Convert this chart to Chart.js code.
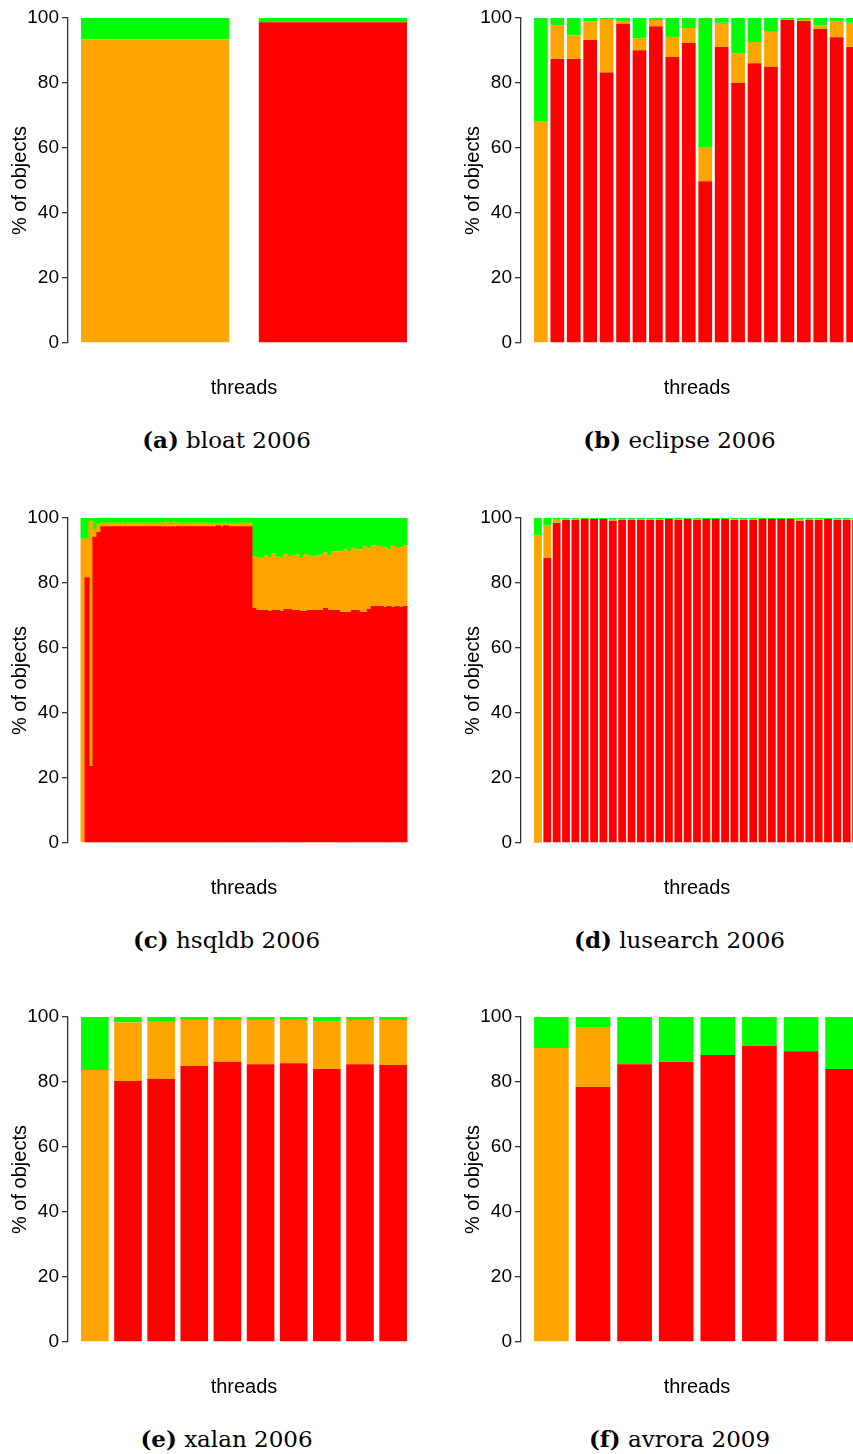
<!DOCTYPE html>
<html>
<head>
<meta charset="utf-8">
<script src="https://cdn.jsdelivr.net/npm/chart.js@4.4.1/dist/chart.umd.min.js"></script>
<style>
  html, body { margin: 0; padding: 0; background: #fff; overflow: hidden; width: 853px; height: 1454px; }
  canvas { position: absolute; }
  .cap { position: absolute; width: 453px; text-align: center; font: 23px "DejaVu Serif", serif; color: #000; line-height: 24px; white-space: nowrap; }
</style>
</head>
<body>
<canvas id="bloat" width="440" height="400" style="left:0;top:0"></canvas>
<canvas id="eclipse" width="440" height="400" style="left:453px;top:0"></canvas>
<canvas id="hsqldb" width="440" height="400" style="left:0;top:500px"></canvas>
<canvas id="lusearch" width="440" height="400" style="left:453px;top:500px"></canvas>
<canvas id="xalan" width="440" height="400" style="left:0;top:999px"></canvas>
<canvas id="avrora" width="440" height="400" style="left:453px;top:999px"></canvas>

<div class="cap" style="left:0;top:428px"><b>(a)</b> bloat 2006</div>
<div class="cap" style="left:453px;top:428px"><b>(b)</b> eclipse 2006</div>
<div class="cap" style="left:0;top:928px"><b>(c)</b> hsqldb 2006</div>
<div class="cap" style="left:453px;top:928px"><b>(d)</b> lusearch 2006</div>
<div class="cap" style="left:0;top:1427px"><b>(e)</b> xalan 2006</div>
<div class="cap" style="left:453px;top:1427px"><b>(f)</b> avrora 2009</div>

<script>
const RED = '#ff0000', ORANGE = '#ffa500', GREEN = '#00ff00';
const FONT = '"Liberation Sans", Arial, Helvetica, sans-serif';

// bloat 2006
const bloatRed    = [0, 98.7];
const bloatOrange = [93.4, 0];
const bloatGreen  = [6.6, 1.3];

// eclipse 2006
const eclipseRed    = [0, 87.4, 87.4, 93.2, 83.2, 98.2, 90.1, 97.5, 88.0, 92.3,
                       49.8, 91.1, 80.0, 86.1, 84.9, 99.4, 99.1, 96.6, 94.1, 91.1];
const eclipseOrange = [68.1, 10.4, 7.2, 5.7, 16.5, 0.9, 3.7, 1.9, 6.1, 4.6,
                       10.3, 7.4, 9.2, 6.5, 11.1, 0.3, 0.3, 1.2, 5.0, 7.4];
const eclipseGreen  = [31.9, 2.2, 5.4, 1.1, 0.3, 0.9, 6.2, 0.6, 5.9, 3.1,
                       39.9, 1.5, 10.8, 7.4, 4.0, 0.3, 0.6, 2.2, 0.9, 1.5];

// hsqldb 2006
const hsqldbRed = [
  0, 81.8, 23.7, 94.2, 95.7, 97.5, 97.5, 97.5, 97.5, 97.5,
  97.5, 97.5, 97.5, 97.5, 97.5, 97.5, 97.5, 97.5, 97.5, 97.5,
  97.5, 97.5, 97.5, 97.5, 97.5, 97.5, 97.5, 97.5, 97.5, 97.5,
  97.5, 97.5, 97.5, 97.5, 97.8, 97.5, 97.8, 97.5, 97.5, 97.5,
  97.5, 97.5, 97.5, 72.3, 71.7, 71.7, 71.7, 71.4, 71.7, 71.7,
  71.4, 72.0, 72.0, 71.7, 71.7, 71.4, 71.4, 71.7, 71.7, 71.7,
  71.7, 72.3, 71.7, 71.7, 71.7, 71.1, 71.1, 71.1, 71.7, 71.7,
  71.1, 71.1, 72.0, 72.9, 72.9, 72.9, 72.6, 72.9, 72.6, 72.9,
  72.6, 72.9
];
const hsqldbOrange = [
  93.6, 11.8, 75.4, 2.4, 2.5, 1.0, 1.0, 1.0, 1.0, 1.0,
  1.0, 1.0, 1.0, 1.0, 1.0, 1.0, 1.0, 1.0, 1.0, 1.0,
  1.0, 1.3, 1.0, 1.3, 1.0, 1.0, 1.0, 1.0, 1.0, 1.0,
  1.0, 1.0, 1.0, 1.0, 0.7, 1.0, 0.7, 1.0, 1.0, 1.0,
  1.0, 1.0, 1.0, 16.0, 16.3, 15.8, 16.8, 16.6, 17.4, 16.1,
  16.6, 16.9, 16.3, 16.8, 17.1, 16.6, 17.5, 16.7, 16.4, 16.7,
  17.0, 17.1, 16.9, 18.0, 18.0, 18.6, 19.3, 18.5, 19.1, 18.6,
  19.2, 20.3, 18.6, 18.7, 18.4, 18.5, 18.5, 17.5, 18.8, 17.9,
  18.4, 18.7
];
const hsqldbGreen = [
  6.4, 6.4, 0.9, 3.4, 1.8, 1.5, 1.5, 1.5, 1.5, 1.5,
  1.5, 1.5, 1.5, 1.5, 1.5, 1.5, 1.5, 1.5, 1.5, 1.5,
  1.5, 1.2, 1.5, 1.2, 1.5, 1.5, 1.5, 1.5, 1.5, 1.5,
  1.5, 1.5, 1.5, 1.5, 1.5, 1.5, 1.5, 1.5, 1.5, 1.5,
  1.5, 1.5, 1.5, 11.7, 12.0, 12.5, 11.5, 12.0, 10.9, 12.2,
  12.0, 11.1, 11.7, 11.5, 11.2, 12.0, 11.1, 11.6, 11.9, 11.6,
  11.3, 10.6, 11.4, 10.3, 10.3, 10.3, 9.6, 10.4, 9.2, 9.7,
  9.7, 8.6, 9.4, 8.4, 8.7, 8.6, 8.9, 9.6, 8.6, 9.2,
  9.0, 8.4
];

// lusearch 2006
const lusearchRed = [
  0.3, 87.7, 98.5, 99.4, 99.4, 99.7, 99.7, 99.7, 99.1, 99.4,
  99.4, 99.4, 99.4, 99.4, 99.7, 99.4, 99.7, 99.4, 99.7, 99.7,
  99.7, 99.4, 99.4, 99.4, 99.7, 99.7, 99.7, 99.7, 99.1, 99.4,
  99.4, 99.7, 99.4, 99.4, 99.4
];
const lusearchOrange = [
  94.5, 10.1, 1.2, 0.3, 0.3, 0, 0, 0, 0.6, 0.3,
  0.3, 0.3, 0.3, 0.3, 0, 0.3, 0, 0.3, 0, 0,
  0, 0.3, 0.3, 0.3, 0, 0, 0, 0, 0.6, 0.3,
  0.3, 0, 0.3, 0.3, 0.3
];
const lusearchGreen = [
  5.2, 2.2, 0.3, 0.3, 0.3, 0.3, 0.3, 0.3, 0.3, 0.3,
  0.3, 0.3, 0.3, 0.3, 0.3, 0.3, 0.3, 0.3, 0.3, 0.3,
  0.3, 0.3, 0.3, 0.3, 0.3, 0.3, 0.3, 0.3, 0.3, 0.3,
  0.3, 0.3, 0.3, 0.3, 0.3
];

// xalan 2006
const xalanRed    = [0, 80.3, 80.9, 84.9, 86.2, 85.5, 85.8, 84.0, 85.5, 85.2];
const xalanOrange = [83.7, 18.0, 17.6, 14.2, 12.9, 13.6, 13.3, 14.8, 13.6, 13.9];
const xalanGreen  = [16.3, 1.7, 1.5, 0.9, 0.9, 0.9, 0.9, 1.2, 0.9, 0.9];

// avrora 2009
const avroraRed    = [0, 78.5, 85.5, 86.2, 88.3, 91.1, 89.5, 84.0];
const avroraOrange = [90.5, 18.4, 0, 0.3, 0, 0, 0, 0];
const avroraGreen  = [9.5, 3.1, 14.5, 13.5, 11.7, 8.9, 10.5, 16.0];

const Y_TICKS = [0, 20, 40, 60, 80, 100];

// R barplot layout: bars of width 1/(1+space) on a unit pitch, 4% axis extension
function panel(id, red, orange, green, space) {
  const n = red.length;
  const w = 1 / (1 + space);
  const span = n - 1 + w;
  const threads = red.map((_, i) => i + 1);
  new Chart(document.getElementById(id), {
    type: 'bar',
    data: {
      labels: threads,
      datasets: [
        { data: red, backgroundColor: RED },
        { data: orange, backgroundColor: ORANGE },
        { data: green, backgroundColor: GREEN }
      ]
    },
    options: {
      responsive: false, animation: false, devicePixelRatio: 1,
      layout: { padding: { top: 18, right: 20, bottom: 0, left: 0 } },
      plugins: { legend: { display: false }, tooltip: { enabled: false } },
      // no-gap panels overlap slightly so no seams show between bars
      datasets: { bar: { categoryPercentage: 1, barPercentage: space ? w : 1.25, borderWidth: 0 } },
      scales: {
        x: {
          type: 'linear', stacked: true, offset: false,
          min: 1 - w / 2 - 0.04 * span, max: n + w / 2 + 0.04 * span,
          afterBuildTicks: s => { s.ticks = []; },
          afterFit: s => { s.height = 57; },
          ticks: { display: false }, grid: { display: false }, border: { display: false },
          title: { display: true, text: 'threads', color: '#000', font: { family: FONT, size: 20 }, padding: 0 }
        },
        y: {
          stacked: true, min: 0, max: 100,
          afterBuildTicks: s => { s.ticks = Y_TICKS.map(v => ({ value: v })); },
          afterFit: s => { s.width = 68; },
          ticks: { color: '#000', font: { family: FONT, size: 19 }, padding: 3 },
          grid: { drawOnChartArea: false, tickLength: 6, color: '#333', lineWidth: 1.3 },
          border: { display: true, color: '#333', width: 1.3 },
          title: { display: true, text: '% of objects', color: '#000', font: { family: FONT, size: 20 }, padding: { top: 8, bottom: 0 } }
        }
      }
    }
  });
}

panel('bloat', bloatRed, bloatOrange, bloatGreen, 0.2);
panel('eclipse', eclipseRed, eclipseOrange, eclipseGreen, 0.2);
panel('hsqldb', hsqldbRed, hsqldbOrange, hsqldbGreen, 0);
panel('lusearch', lusearchRed, lusearchOrange, lusearchGreen, 0.2);
panel('xalan', xalanRed, xalanOrange, xalanGreen, 0.2);
panel('avrora', avroraRed, avroraOrange, avroraGreen, 0.2);
</script>
</body>
</html>
